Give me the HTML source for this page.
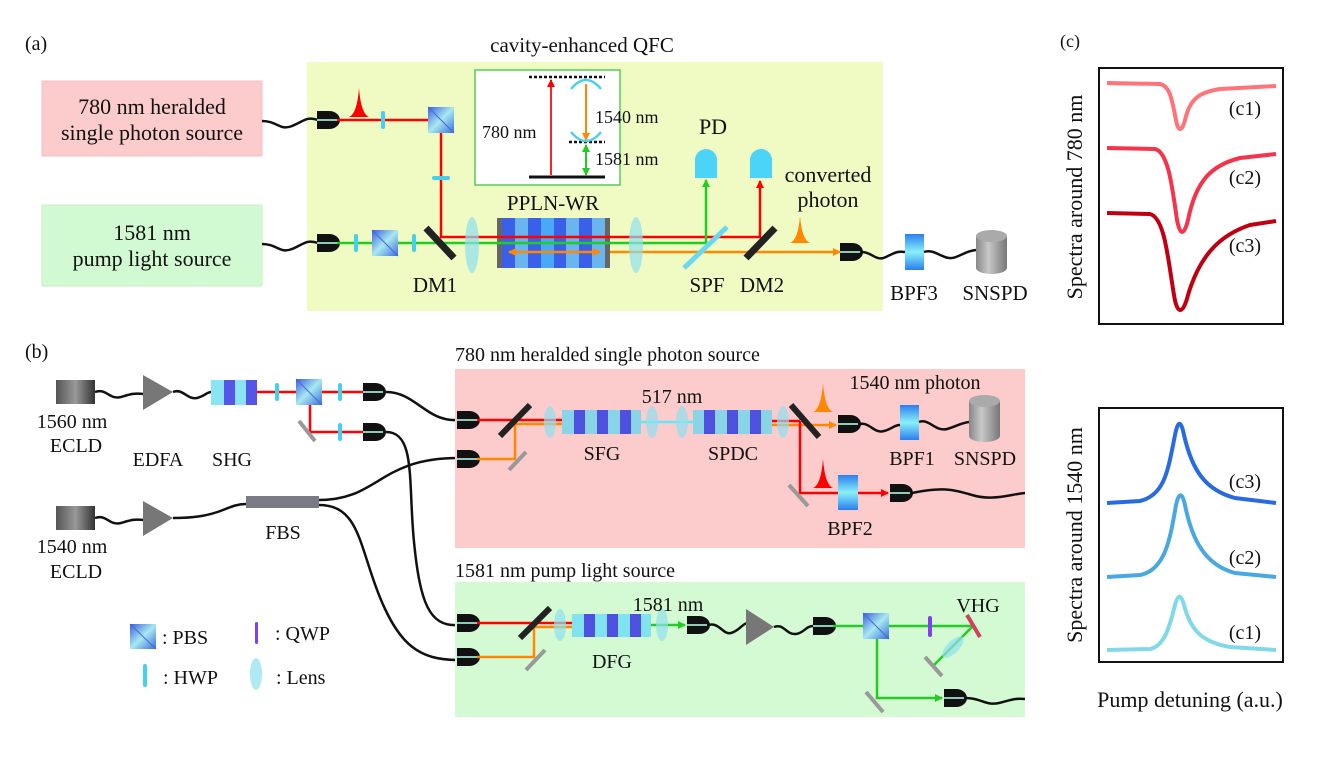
<!DOCTYPE html>
<html><head><meta charset="utf-8"><style>
html,body{margin:0;padding:0;background:#fff}
svg{display:block}
text{font-family:"Liberation Serif",serif;fill:#111}
</style></head><body>
<svg width="1343" height="771" viewBox="0 0 1343 771" xmlns="http://www.w3.org/2000/svg">
<defs>
<linearGradient id="pbs" x1="0" y1="0" x2="1" y2="1"><stop offset="0" stop-color="#3a5ee0"/><stop offset=".5" stop-color="#a8e8f0"/><stop offset="1" stop-color="#3a6ee0"/></linearGradient>
<linearGradient id="ecld" x1="0" x2="1"><stop offset="0" stop-color="#555"/><stop offset=".5" stop-color="#999"/><stop offset="1" stop-color="#333"/></linearGradient>
<linearGradient id="bpf" x1="0" y1="0" x2="0" y2="1"><stop offset="0" stop-color="#2a7ef0"/><stop offset=".5" stop-color="#8af0f8"/><stop offset="1" stop-color="#2a7ef0"/></linearGradient>
<linearGradient id="cyl" x1="0" x2="1"><stop offset="0" stop-color="#888"/><stop offset=".4" stop-color="#c8c8c8"/><stop offset="1" stop-color="#777"/></linearGradient>
<g id="con"><path d="M0,-9 h12 a11,9 0 0 1 0,18 h-12 z" fill="#111"/><line x1="0" y1="0" x2="20" y2="0" stroke="#8fc9b8" stroke-width="2"/></g>
<g id="pb"><rect x="-13" y="-13" width="26" height="26" fill="url(#pbs)"/><line x1="-13" y1="-13" x2="13" y2="13" stroke="#4a6ad0" stroke-width="1"/></g>
<rect id="hwp" x="-2" y="-9" width="4" height="18" rx="2" fill="#45d0f0"/>
<ellipse id="lens" cx="0" cy="0" rx="6" ry="16" fill="#8fe0f0" opacity=".7"/>
<marker id="ar" markerWidth="8" markerHeight="8" refX="7" refY="4" orient="auto" markerUnits="userSpaceOnUse"><path d="M0,0 L8,4 L0,8z" fill="#f00"/></marker>
<marker id="ao" markerWidth="8" markerHeight="8" refX="7" refY="4" orient="auto-start-reverse" markerUnits="userSpaceOnUse"><path d="M0,0 L8,4 L0,8z" fill="#f80"/></marker>
<marker id="ag" markerWidth="8" markerHeight="8" refX="7" refY="4" orient="auto-start-reverse" markerUnits="userSpaceOnUse"><path d="M0,0 L8,4 L0,8z" fill="#2c2"/></marker>
</defs>

<!-- Panel (a) -->
<text x="25" y="50" font-size="20">(a)</text>
<text x="582" y="52" font-size="21" text-anchor="middle">cavity-enhanced QFC</text>
<rect x="307" y="62" width="576" height="249" fill="#f0fbc4"/>
<rect x="42" y="81" width="220" height="75" fill="#fccccc" stroke="#f4c0c0"/>
<text x="152" y="114" font-size="22" text-anchor="middle">780 nm heralded</text>
<text x="152" y="140" font-size="22" text-anchor="middle">single photon source</text>
<rect x="42" y="205" width="220" height="81" fill="#d2fad2" stroke="#c4eec4"/>
<text x="152" y="240" font-size="22" text-anchor="middle">1581 nm</text>
<text x="152" y="266" font-size="22" text-anchor="middle">pump light source</text>
<path d="M262,121 c15,0 18,10 30,5 c12,-5 15,-10 26,-6" stroke="#111" stroke-width="2.5" fill="none"/>
<path d="M262,244 c15,0 18,10 30,5 c12,-5 15,-10 26,-6" stroke="#111" stroke-width="2.5" fill="none"/>

<!-- inset -->
<rect x="475" y="70" width="145" height="115" fill="#fff" stroke="#5c5" stroke-width="1.5"/>
<line x1="529" y1="77" x2="605" y2="77" stroke="#111" stroke-width="2.5" stroke-dasharray="3,2"/>
<line x1="569" y1="142" x2="605" y2="142" stroke="#111" stroke-width="2.5" stroke-dasharray="3,2"/>
<line x1="529" y1="177" x2="605" y2="177" stroke="#111" stroke-width="3"/>
<line x1="551" y1="175" x2="551" y2="80" stroke="#f22" stroke-width="2" marker-end="url(#ar)"/>
<line x1="586" y1="84" x2="586" y2="140" stroke="#f80" stroke-width="2" marker-end="url(#ao)"/>
<line x1="586" y1="145" x2="586" y2="175" stroke="#2c2" stroke-width="2" marker-start="url(#ag)" marker-end="url(#ag)"/>
<path d="M571,89 Q586,71 601,89" stroke="#4cd0f0" stroke-width="2.5" fill="none"/>
<path d="M571,132 Q586,150 601,132" stroke="#4cd0f0" stroke-width="2.5" fill="none"/>
<text x="482" y="138" font-size="18">780 nm</text>
<text x="595" y="123" font-size="18">1540 nm</text>
<text x="595" y="165" font-size="18">1581 nm</text>

<!-- top beam -->
<use href="#con" x="317" y="120"/>
<line x1="337" y1="120" x2="441" y2="120" stroke="#f00" stroke-width="2.5"/>
<path d="M349,117 Q357,114 359,88 Q361,114 369,117z" fill="#f00"/>
<use href="#hwp" x="383" y="120"/>
<polyline points="441,120 441,237 760,237 760,181" stroke="#f00" stroke-width="2.5" fill="none" marker-end="url(#ar)"/>
<use href="#pb" x="441" y="120"/>
<rect x="432" y="176" width="18" height="4" rx="2" fill="#45d0f0"/>
<!-- green beam -->
<use href="#con" x="317" y="243"/>
<polyline points="337,243 706,243 706,180" stroke="#2c2" stroke-width="2.5" fill="none" marker-end="url(#ag)"/>
<use href="#hwp" x="356" y="243"/>
<use href="#pb" x="385" y="243"/>
<use href="#hwp" x="414" y="243"/>
<line x1="505" y1="252" x2="840" y2="252" stroke="#f80" stroke-width="2.5" marker-end="url(#ao)"/>
<line x1="426" y1="228" x2="454" y2="258" stroke="#222" stroke-width="7"/>
<ellipse cx="472" cy="245" rx="7" ry="28" fill="#8fe0f0" opacity=".7"/>
<!-- PPLN -->
<rect x="497" y="218" width="113" height="50" fill="#666"/>
<rect x="502" y="218" width="103" height="50" fill="#3a5fe8"/>
<rect x="515" y="218" width="13" height="50" fill="#6ab4f0"/>
<rect x="541" y="218" width="13" height="50" fill="#4aa8f8"/>
<rect x="566" y="218" width="13" height="50" fill="#6ab4f0"/>
<rect x="592" y="218" width="13" height="50" fill="#6ab4f0"/>
<line x1="497" y1="237" x2="610" y2="237" stroke="#f00" stroke-width="2.5"/>
<line x1="497" y1="243" x2="610" y2="243" stroke="#2c2" stroke-width="2.5"/>
<line x1="509" y1="252" x2="600" y2="252" stroke="#f80" stroke-width="2.5" marker-start="url(#ao)" marker-end="url(#ao)"/>
<ellipse cx="636" cy="245" rx="7" ry="28" fill="#8fe0f0" opacity=".7"/>
<line x1="684" y1="268" x2="727" y2="227" stroke="#6ad8f0" stroke-width="5"/>
<line x1="746" y1="258" x2="775" y2="228" stroke="#222" stroke-width="7"/>
<path d="M695,178 v-18 a11,11 0 0 1 22,0 v18z" fill="#4cd4f8"/>
<path d="M750,178 v-18 a11,11 0 0 1 22,0 v18z" fill="#4cd4f8"/>
<path d="M790,243 Q798,240 800,216 Q802,240 810,243z" fill="#f80"/>
<use href="#con" x="840" y="252"/>
<text x="713" y="134" font-size="22" text-anchor="middle">PD</text>
<text x="828" y="182" font-size="22" text-anchor="middle">converted</text>
<text x="828" y="207" font-size="22" text-anchor="middle">photon</text>
<text x="553" y="210" font-size="21" text-anchor="middle">PPLN-WR</text>
<text x="435" y="292" font-size="21" text-anchor="middle">DM1</text>
<text x="707" y="292" font-size="21" text-anchor="middle">SPF</text>
<text x="762" y="292" font-size="21" text-anchor="middle">DM2</text>
<path d="M862,252 c10,0 14,10 24,5 c10,-5 12,-6 19,-5" stroke="#111" stroke-width="2.5" fill="none"/>
<rect x="905" y="234" width="19" height="36" fill="url(#bpf)"/>
<path d="M924,252 c12,-4 20,10 32,5 c10,-4 12,-6 20,-7" stroke="#111" stroke-width="2.5" fill="none"/>
<path d="M976,236 v32 a15.5,6 0 0 0 31,0 v-32z" fill="url(#cyl)"/>
<ellipse cx="991.5" cy="236" rx="15.5" ry="6" fill="#aaa"/>
<text x="914" y="300" font-size="21" text-anchor="middle">BPF3</text>
<text x="995" y="300" font-size="21" text-anchor="middle">SNSPD</text>

<!-- Panel (b) -->
<text x="25" y="358" font-size="20">(b)</text>
<rect x="56" y="380" width="39" height="24" fill="url(#ecld)"/>
<text x="72" y="428" font-size="20" text-anchor="middle">1560 nm</text>
<text x="76" y="452" font-size="20" text-anchor="middle">ECLD</text>
<path d="M95,392 c12,-4 14,8 26,5 c10,-3 12,-4 23,-3" stroke="#111" stroke-width="2.5" fill="none"/>
<path d="M143,375 L173,392 L143,410z" fill="#777"/>
<path d="M173,392 c10,-4 14,8 24,6 c8,-2 10,-6 14,-6" stroke="#111" stroke-width="2.5" fill="none"/>
<text x="158" y="466" font-size="20" text-anchor="middle">EDFA</text>
<rect x="211" y="380" width="46" height="25" fill="#8ae4f4"/>
<rect x="224" y="380" width="11" height="25" fill="#5555e8"/>
<rect x="246" y="380" width="11" height="25" fill="#5555e8"/>
<text x="232" y="466" font-size="20" text-anchor="middle">SHG</text>
<line x1="257" y1="392" x2="365" y2="392" stroke="#f00" stroke-width="2.5"/>
<polyline points="310,392 310,432 365,432" stroke="#f00" stroke-width="2.5" fill="none"/>
<use href="#hwp" x="277" y="392"/>
<use href="#pb" x="309" y="392"/>
<use href="#hwp" x="340" y="392"/>
<use href="#hwp" x="340" y="432"/>
<line x1="299" y1="421" x2="315" y2="441" stroke="#999" stroke-width="4"/>
<use href="#con" x="363" y="392"/>
<use href="#con" x="363" y="432"/>

<rect x="56" y="506" width="39" height="24" fill="url(#ecld)"/>
<text x="72" y="553" font-size="20" text-anchor="middle">1540 nm</text>
<text x="76" y="578" font-size="20" text-anchor="middle">ECLD</text>
<path d="M95,518 c12,-4 14,8 26,5 c10,-3 12,-4 23,-3" stroke="#111" stroke-width="2.5" fill="none"/>
<path d="M143,501 L173,518 L143,536z" fill="#777"/>
<path d="M173,518 c20,0 35,-2 50,-8 c10,-4 15,-6 23,-6" stroke="#111" stroke-width="2.5" fill="none"/>
<rect x="246" y="496" width="73" height="12" fill="#7a7a84"/>
<text x="283" y="539" font-size="20" text-anchor="middle">FBS</text>

<!-- fibers -->
<path d="M386,392 c30,0 40,30 72,28" stroke="#111" stroke-width="2.5" fill="none"/>
<path d="M386,432 c30,0 22,50 28,110 c6,60 15,85 44,83" stroke="#111" stroke-width="2.5" fill="none"/>
<path d="M319,500 c60,0 60,-42 139,-42" stroke="#111" stroke-width="2.5" fill="none"/>
<path d="M319,505 c40,0 40,40 60,90 c20,50 40,65 79,65" stroke="#111" stroke-width="2.5" fill="none"/>

<!-- pink box -->
<text x="455" y="361" font-size="20">780 nm heralded single photon source</text>
<rect x="455" y="369" width="570" height="179" fill="#fccccc"/>
<use href="#con" x="457" y="420"/>
<use href="#con" x="457" y="459"/>
<line x1="477" y1="420" x2="562" y2="420" stroke="#f00" stroke-width="2.5"/>
<polyline points="477,459 515,459 515,424 562,424" stroke="#f80" stroke-width="2.5" fill="none"/>
<line x1="500" y1="436" x2="530" y2="405" stroke="#222" stroke-width="6"/>
<line x1="509" y1="470" x2="526" y2="452" stroke="#999" stroke-width="4"/>
<use href="#lens" x="550" y="422"/>
<rect x="562" y="410" width="79" height="24" fill="#8ad4e8"/>
<rect x="574" y="410" width="11" height="24" fill="#5050e0"/>
<rect x="597" y="410" width="11" height="24" fill="#5050e0"/>
<rect x="620" y="410" width="11" height="24" fill="#5050e0"/>
<line x1="641" y1="422" x2="693" y2="422" stroke="#5ee8f8" stroke-width="2.5"/>
<use href="#lens" x="652" y="422"/>
<use href="#lens" x="682" y="422"/>
<rect x="693" y="410" width="79" height="24" fill="#8ad4e8"/>
<rect x="704" y="410" width="11" height="24" fill="#5050e0"/>
<rect x="727" y="410" width="11" height="24" fill="#5050e0"/>
<rect x="750" y="410" width="11" height="24" fill="#5050e0"/>
<line x1="772" y1="421" x2="800" y2="421" stroke="#f00" stroke-width="2.5"/>
<line x1="772" y1="425" x2="836" y2="425" stroke="#f80" stroke-width="2.5" marker-end="url(#ao)"/>
<polyline points="800,421 800,493 888,493" stroke="#f00" stroke-width="2.5" fill="none" marker-end="url(#ar)"/>
<use href="#lens" x="783" y="422"/>
<line x1="791" y1="405" x2="819" y2="437" stroke="#222" stroke-width="6"/>
<line x1="789" y1="485" x2="808" y2="506" stroke="#999" stroke-width="4"/>
<path d="M813,412 Q821,409 823,383 Q825,409 833,412z" fill="#f80"/>
<path d="M813,488 Q821,485 823,459 Q825,485 833,488z" fill="#f00"/>
<rect x="838" y="475" width="20" height="35" fill="url(#bpf)"/>
<use href="#con" x="838" y="424"/>
<use href="#con" x="890" y="493"/>
<path d="M860,424 c10,-2 14,10 24,7 c8,-2 10,-6 16,-6" stroke="#111" stroke-width="2.5" fill="none"/>
<rect x="900" y="405" width="19" height="35" fill="url(#bpf)"/>
<path d="M919,422 c10,-4 16,10 28,7 c10,-3 14,-6 22,-7" stroke="#111" stroke-width="2.5" fill="none"/>
<path d="M969,401 v35 a15.5,6 0 0 0 31,0 v-35z" fill="url(#cyl)"/>
<ellipse cx="984.5" cy="401" rx="15.5" ry="6" fill="#aaa"/>
<path d="M912,493 c30,-6 40,-4 60,2 c20,6 35,0 53,-2" stroke="#111" stroke-width="2.5" fill="none"/>
<text x="672" y="403" font-size="20" text-anchor="middle">517 nm</text>
<text x="915" y="389" font-size="20" text-anchor="middle">1540 nm photon</text>
<text x="602" y="460" font-size="20" text-anchor="middle">SFG</text>
<text x="733" y="460" font-size="20" text-anchor="middle">SPDC</text>
<text x="912" y="465" font-size="20" text-anchor="middle">BPF1</text>
<text x="985" y="465" font-size="20" text-anchor="middle">SNSPD</text>
<text x="850" y="535" font-size="20" text-anchor="middle">BPF2</text>

<!-- green box -->
<text x="455" y="577" font-size="20">1581 nm pump light source</text>
<rect x="455" y="582" width="570" height="135" fill="#d4fad4"/>
<use href="#con" x="457" y="623"/>
<use href="#con" x="457" y="657"/>
<line x1="477" y1="623" x2="572" y2="623" stroke="#f00" stroke-width="2.5"/>
<polyline points="477,657 534,657 534,627 572,627" stroke="#f80" stroke-width="2.5" fill="none"/>
<line x1="520" y1="638" x2="550" y2="608" stroke="#222" stroke-width="6"/>
<line x1="526" y1="670" x2="545" y2="650" stroke="#999" stroke-width="4"/>
<use href="#lens" x="560" y="625"/>
<rect x="572" y="614" width="79" height="23" fill="#80e4f0"/>
<rect x="584" y="614" width="11" height="23" fill="#5050e0"/>
<rect x="607" y="614" width="11" height="23" fill="#5050e0"/>
<rect x="630" y="614" width="11" height="23" fill="#5050e0"/>
<line x1="651" y1="625" x2="685" y2="625" stroke="#2c2" stroke-width="2.5" marker-end="url(#ag)"/>
<use href="#lens" x="662" y="625"/>
<use href="#con" x="687" y="625"/>
<path d="M709,625 c10,-3 14,10 22,8 c8,-2 10,-8 16,-10" stroke="#111" stroke-width="2.5" fill="none"/>
<path d="M746,609 L774,627 L746,645z" fill="#777"/>
<path d="M774,627 c10,-4 12,8 22,7 c8,-1 10,-8 17,-8" stroke="#111" stroke-width="2.5" fill="none"/>
<use href="#con" x="813" y="626"/>
<line x1="833" y1="626" x2="973" y2="626" stroke="#2c2" stroke-width="2.5"/>
<polyline points="973,626 934,665" stroke="#2c2" stroke-width="2.5" fill="none"/>
<polyline points="877,626 877,698 942,698" stroke="#2c2" stroke-width="2.5" fill="none" marker-end="url(#ag)"/>
<use href="#pb" x="876" y="626"/>
<rect x="928" y="616" width="4" height="21" rx="2" fill="#8040f0"/>
<line x1="967" y1="615" x2="980" y2="637" stroke="#d04060" stroke-width="4"/>
<ellipse cx="953" cy="647" rx="6" ry="14" fill="#8fe0f0" opacity=".7" transform="rotate(45 953 647)"/>
<line x1="925" y1="657" x2="942" y2="676" stroke="#999" stroke-width="4"/>
<line x1="866" y1="692" x2="883" y2="712" stroke="#999" stroke-width="4"/>
<use href="#con" x="944" y="698"/>
<path d="M966,698 c15,0 20,8 33,5 c12,-3 15,-5 26,-4" stroke="#111" stroke-width="2.5" fill="none"/>
<text x="668" y="611" font-size="20" text-anchor="middle">1581 nm</text>
<text x="612" y="668" font-size="20" text-anchor="middle">DFG</text>
<text x="978" y="612" font-size="20" text-anchor="middle">VHG</text>

<!-- legend -->
<rect x="130" y="624" width="26" height="25" fill="url(#pbs)"/>
<line x1="130" y1="624" x2="156" y2="649" stroke="#4a6ad0" stroke-width="1"/>
<text x="162" y="644" font-size="20">: PBS</text>
<rect x="255" y="622" width="3" height="22" rx="1.5" fill="#8040f0"/>
<text x="275" y="640" font-size="20">: QWP</text>
<rect x="143" y="664" width="4" height="23" rx="2" fill="#45d0f0"/>
<text x="163" y="684" font-size="20">: HWP</text>
<ellipse cx="256" cy="674" rx="6" ry="16" fill="#8fe0f0" opacity=".7"/>
<text x="276" y="684" font-size="20">: Lens</text>

<!-- Panel (c) -->
<text x="1060" y="47" font-size="18">(c)</text>
<rect x="1099" y="68" width="184" height="256" fill="none" stroke="#111" stroke-width="2"/>
<rect x="1099" y="408" width="184" height="254" fill="none" stroke="#111" stroke-width="2"/>
<text transform="translate(1082,197) rotate(-90)" font-size="22" text-anchor="middle">Spectra around 780 nm</text>
<text transform="translate(1082,535) rotate(-90)" font-size="22" text-anchor="middle">Spectra around 1540 nm</text>
<text x="1190" y="707" font-size="22" text-anchor="middle">Pump detuning (a.u.)</text>
<path d="M1107,83 L1160,84 C1170,86 1172,100 1176,120 C1178,132 1182,132 1185,120 C1190,98 1200,92 1220,89 L1276,86" stroke="#ff7478" stroke-width="4" fill="none"/>
<path d="M1107,148 L1155,149 C1168,152 1172,185 1177,220 C1180,236 1184,236 1188,220 C1196,180 1212,165 1240,158 L1276,154" stroke="#f4344a" stroke-width="4" fill="none"/>
<path d="M1107,213 L1150,214 C1165,218 1168,260 1174,295 C1177,315 1183,315 1188,295 C1200,255 1220,235 1250,225 L1276,221" stroke="#c00010" stroke-width="4" fill="none"/>
<path d="M1107,503 L1140,501 C1165,495 1168,470 1175,435 C1178,420 1181,420 1184,435 C1192,470 1205,490 1235,498 L1276,503" stroke="#2a6ae0" stroke-width="4" fill="none"/>
<path d="M1107,577 L1140,575 C1165,570 1170,540 1176,505 C1179,492 1182,492 1185,505 C1192,540 1205,565 1235,573 L1276,577" stroke="#4aa8e0" stroke-width="4" fill="none"/>
<path d="M1107,650 L1150,649 C1165,646 1170,625 1175,605 C1178,594 1181,594 1184,605 C1190,628 1200,642 1230,647 L1276,650" stroke="#80d8e8" stroke-width="4" fill="none"/>
<text x="1245" y="115" font-size="20" text-anchor="middle">(c1)</text>
<text x="1245" y="184" font-size="20" text-anchor="middle">(c2)</text>
<text x="1245" y="252" font-size="20" text-anchor="middle">(c3)</text>
<text x="1245" y="488" font-size="20" text-anchor="middle">(c3)</text>
<text x="1245" y="564" font-size="20" text-anchor="middle">(c2)</text>
<text x="1245" y="639" font-size="20" text-anchor="middle">(c1)</text>
</svg>
</body></html>
